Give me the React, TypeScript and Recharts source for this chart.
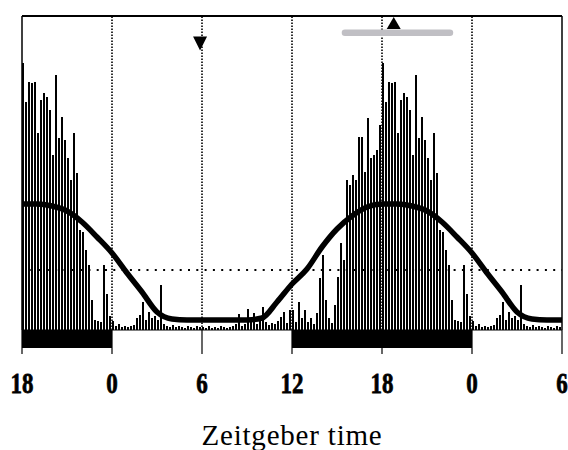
import React from 'react';
import {
  ComposedChart,
  Bar,
  Line,
  XAxis,
  YAxis,
  ReferenceLine,
  ReferenceArea,
  ReferenceDot,
  Label,
} from 'recharts';

// Window: ZT 18 (day 1) to ZT 6 (day 3), double-plotted 24 h profile
const START_T = 18;
const END_T = 54;
const X_TICKS = [18, 24, 30, 36, 42, 48, 54];
const GRID_X = [24, 30, 36, 42, 48];
const GRID_Y = 60;
const BIN_HOURS = 0.2;

// activity counts per 12-min bin, ZT 0.0 ... 23.8
const ACTIVITY = [
  9, 4, 6, 3, 4, 3, 4, 5, 12, 15,
  28, 10, 18, 12, 14, 10, 45, 6, 4, 3,
  5, 3, 4, 3, 2, 4, 3, 2, 4, 3,
  3, 2, 4, 2, 3, 2, 4, 3, 2, 3,
  4, 6, 16, 4, 6, 21, 8, 17, 6, 9,
  23, 8, 5, 7, 6, 9, 13, 18, 7, 20,
  20, 8, 28, 12, 20, 8, 12, 6, 17, 52,
  75, 30, 12, 7, 25, 53, 87, 70, 150, 145,
  155, 150, 193, 193, 158, 212, 172, 175, 180, 205,
  267, 228, 248, 247, 248, 197, 230, 237, 233, 220,
  175, 255, 192, 213, 190, 172, 150, 197, 157, 100,
  98, 80, 65, 30, 10, 9, 8, 65, 36, 14,
];

// fitted rhythm, hourly ZT 0 ... 23
const CURVE = [
  77, 57, 38, 18, 11, 10, 10, 10, 10, 10,
  12, 28, 46, 61, 83, 101, 114, 123, 126, 126,
  124, 119, 108, 93,
];

const NIGHTS: [number, number][] = [
  [18, 24],
  [36, 48],
];
const DOWN_MARK = { t: 29.87, v: 286.5 };
const UP_MARK = { t: 42.78, v: 307 };
const GRAY_BAR = { from: 39.53, to: 46.53, v: 297.3 };

const Y_MAX = 314;
const NIGHT_DEPTH = -18;

const BINS_PER_DAY = Math.round(24 / BIN_HOURS);
const startBin = Math.round(START_T / BIN_HOURS);
const nBins = Math.round((END_T - START_T) / BIN_HOURS);

const barData: { t: number; a: number }[] = [];
for (let k = 0; k < nBins; k++) {
  const i = (startBin + k) % BINS_PER_DAY;
  barData.push({ t: START_T + (k + 0.5) * BIN_HOURS, a: ACTIVITY[i] });
}

const curveData: { t: number; v: number }[] = [];
for (let t = START_T; t <= END_T; t++) {
  curveData.push({ t, v: CURVE[t % 24] });
}

const AxisTick = (props: any) => {
  const { x, y, payload } = props;
  return (
    <g transform={`translate(${x},${y + 37}) scale(1,1.25)`}>
      <text
        x={0}
        y={0}
        textAnchor="middle"
        fontFamily="'Liberation Serif', 'Times New Roman', serif"
        fontWeight="bold"
        fontSize={23}
        fill="#000"
        stroke="#000"
        strokeWidth={0.6}
      >
        {payload.value % 24}
      </text>
    </g>
  );
};

const BarShape = (p: any) => {
  const { x, y, width, height } = p;
  if (!height || height <= 0) return null;
  const cx = x + width / 2;
  const left = Math.floor(cx) - 1;
  return <rect x={left} y={y} width={2} height={height} fill="#000" />;
};

const DownTri = (p: any) => (
  <path
    d={`M${p.cx - 7},${p.cy - 7}L${p.cx + 7},${p.cy - 7}L${p.cx},${p.cy + 7}Z`}
    fill="#000"
  />
);
const UpTri = (p: any) => (
  <path
    d={`M${p.cx - 7},${p.cy + 6}L${p.cx + 7},${p.cy + 6}L${p.cx},${p.cy - 6}Z`}
    fill="#000"
  />
);

export default function App() {
  return (
    <div style={{ position: 'absolute', left: 0, top: 0, background: '#fff' }}>
      <ComposedChart
        width={568}
        height={450}
        data={barData}
        margin={{ top: 16, right: 6, left: 22, bottom: 0 }}
      >
        <XAxis
          dataKey="t"
          type="number"
          domain={[START_T, END_T]}
          ticks={X_TICKS}
          allowDataOverflow
          height={120}
          tickSize={24}
          tickLine={{ stroke: '#000', strokeWidth: 1.2 }}
          axisLine={{ stroke: '#000', strokeWidth: 1.2 }}
          tick={<AxisTick />}
          interval={0}
        >
          <Label
            content={(p: any) => {
              const vb = p.viewBox || {};
              return (
                <text
                  x={vb.x + vb.width / 2}
                  y={445}
                  textAnchor="middle"
                  fontFamily="'Liberation Serif', 'Times New Roman', serif"
                  fontSize={29}
                  letterSpacing={0.8}
                  fill="#000"
                >
                  Zeitgeber time
                </text>
              );
            }}
          />
        </XAxis>
        <YAxis hide width={0} domain={[0, Y_MAX]} allowDataOverflow />

        {GRID_X.map((gx) => (
          <ReferenceLine
            key={gx}
            x={gx}
            stroke="#000"
            strokeWidth={1.6}
            strokeDasharray="1.5 1.5"
          />
        ))}
        <ReferenceLine y={GRID_Y} stroke="#000" strokeWidth={2} strokeDasharray="2 6.3" />

        <Bar dataKey="a" fill="#000" barSize={2} shape={BarShape} isAnimationActive={false} />

        <Line
          data={curveData}
          dataKey="v"
          type="monotone"
          stroke="#000"
          strokeWidth={5.5}
          dot={false}
          isAnimationActive={false}
        />

        {NIGHTS.map(([a, b]) => (
          <ReferenceArea
            key={a}
            x1={a}
            x2={b}
            y1={NIGHT_DEPTH}
            y2={0}
            fill="#000"
            fillOpacity={1}
            stroke="none"
            ifOverflow="visible"
          />
        ))}

        <ReferenceLine x={START_T} stroke="#000" strokeWidth={1.5} />
        <ReferenceLine x={END_T} stroke="#000" strokeWidth={1.5} />
        <ReferenceLine y={Y_MAX} stroke="#000" strokeWidth={2} />

        <ReferenceLine
          segment={[
            { x: GRAY_BAR.from, y: GRAY_BAR.v },
            { x: GRAY_BAR.to, y: GRAY_BAR.v },
          ]}
          stroke="#c0bfc4"
          strokeWidth={6.5}
          strokeLinecap="round"
          ifOverflow="visible"
        />
        <ReferenceDot x={DOWN_MARK.t} y={DOWN_MARK.v} r={7} shape={DownTri} ifOverflow="visible" />
        <ReferenceDot x={UP_MARK.t} y={UP_MARK.v} r={7} shape={UpTri} ifOverflow="visible" />
      </ComposedChart>
    </div>
  );
}
